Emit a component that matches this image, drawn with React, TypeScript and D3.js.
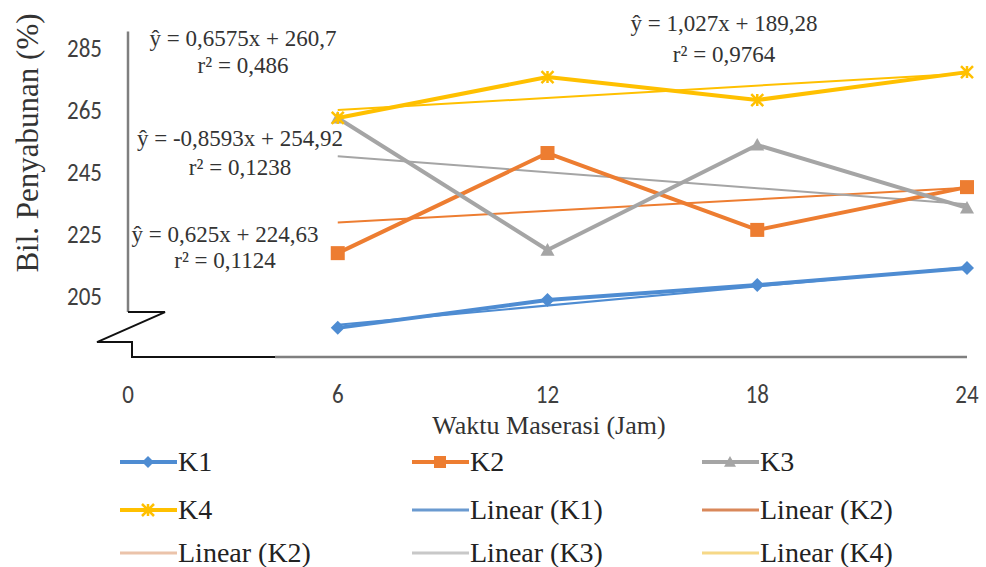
import React from 'react';
import * as d3 from 'd3';

const hours = [6, 12, 18, 24];
const seriesNames = ['K1', 'K2', 'K3', 'K4'];
const k1Values = [194.4, 203.4, 208.2, 213.7];
const k2Values = [218.5, 250.8, 226.0, 239.8];
const k3Values = [262.1, 219.5, 253.4, 233.1];
const k4Values = [262.1, 275.3, 267.9, 276.9];
const trendSlopes = [1.027, 0.625, -0.8593, 0.6575];
const trendIntercepts = [189.28, 224.63, 254.92, 260.7];
const xTicks = [0, 6, 12, 18, 24];
const yTicks = [205, 225, 245, 265, 285];
const equationTexts = ['ŷ = 1,027x + 189,28', 'ŷ = 0,625x + 224,63', 'ŷ = -0,8593x + 254,92', 'ŷ = 0,6575x + 260,7'];
const rSquaredTexts = ['r² = 0,9764', 'r² = 0,1124', 'r² = 0,1238', 'r² = 0,486'];
const legendLabels = ['K1', 'K2', 'K3', 'K4', 'Linear (K1)', 'Linear (K2)', 'Linear (K2)', 'Linear (K3)', 'Linear (K4)'];

const seriesColors = ['#4E8CD2', '#ED7D31', '#A5A5A5', '#FFC000'];
const markerKinds = ['diamond', 'square', 'triangle', 'star'];
const legendColors = ['#4E8CD2', '#ED7D31', '#A5A5A5', '#FFC000', '#6A9AD0', '#D9885A', '#EBC3AA', '#C8C8C8', '#F6D887'];
const legendMarkers = ['diamond', 'square', 'triangle', 'star', null, null, null, null, null];

const allSeries = [k1Values, k2Values, k3Values, k4Values];

// annotation placements (center x, baseline y of eq, baseline y of r²) per series
const annoPos = [
  [724, 31, 62],
  [225, 242, 268],
  [240, 146, 175],
  [243, 46, 73],
];

const serif = "'Liberation Serif', 'Times New Roman', 'DejaVu Serif', serif";
const sans = "Carlito, 'Liberation Sans', Arial, sans-serif";

function Marker({ kind, x, y, color, size }: { kind: string; x: number; y: number; color: string; size: number }) {
  const s = size;
  if (kind === 'diamond') {
    return <path d={`M${x},${y - s}L${x + s},${y}L${x},${y + s}L${x - s},${y}Z`} fill={color} />;
  }
  if (kind === 'square') {
    return <rect x={x - s} y={y - s} width={2 * s} height={2 * s} fill={color} />;
  }
  if (kind === 'triangle') {
    return <path d={`M${x},${y - s}L${x + s},${y + s * 0.8}L${x - s},${y + s * 0.8}Z`} fill={color} />;
  }
  return (
    <path
      d={`M${x - s},${y - s}L${x + s},${y + s}M${x - s},${y + s}L${x + s},${y - s}M${x},${y - s}L${x},${y + s}`}
      stroke={color}
      strokeWidth={2.5}
      fill="none"
    />
  );
}

export default function App() {
  const width = 986;
  const height = 567;
  const x = d3.scaleLinear().domain([0, 24]).range([128, 967]);
  const y = d3.scaleLinear().domain([185, 285]).range([357, 47]);
  const line = d3
    .line<number>()
    .x((_, i) => x(hours[i]))
    .y((d) => y(d));

  const x0 = x(0);
  const yBase = y(185);
  const yTop = y(290);
  const yBreak = y(199.5);

  return (
    <svg
      width={width}
      height={height}
      style={{ position: 'absolute', left: 0, top: 0, background: '#fff' }}
    >
      <rect x={0} y={0} width={width} height={height} fill="#fff" />

      {/* Y axis line and break */}
      <line x1={x0} x2={x0} y1={yTop} y2={yBreak} stroke="#7f7f7f" strokeWidth={2.5} />
      <path
        d={`M${x0},${yBreak}L${x0 + 37},${yBreak}L${x0 - 31},${yBreak + 30}L${x0 + 4},${yBreak + 30}L${x0 + 4},${yBase}L${x0 + 147},${yBase}`}
        fill="none"
        stroke="#111"
        strokeWidth={2}
      />
      <line x1={x0 + 147} x2={x(24)} y1={yBase} y2={yBase} stroke="#7f7f7f" strokeWidth={2.5} />

      {/* Y tick labels */}
      {yTicks.map((t) => (
        <text
          key={t}
          transform={`translate(102,${y(t)}) scale(1,1.15)`}
          dy="0.36em"
          textAnchor="end"
          fontFamily={sans}
          fontSize={23}
          fill="#404040"
        >
          {t}
        </text>
      ))}
      <clipPath id="clip185">
        <rect x={50} y={yBase + 7} width={60} height={4} />
      </clipPath>
      <text
        clipPath="url(#clip185)"
        transform={`translate(102,${yBase + 17}) scale(1,1.15)`}
        dy="0.36em"
        textAnchor="end"
        fontFamily={sans}
        fontSize={23}
        fill="#bbb"
      >
        185
      </text>

      {/* X tick labels */}
      {xTicks.map((t) => (
        <text
          key={t}
          transform={`translate(${x(t)},403) scale(1,1.12)`}
          textAnchor="middle"
          fontFamily={sans}
          fontSize={23}
          fill="#404040"
        >
          {t}
        </text>
      ))}

      {/* Axis titles */}
      <text
        transform="translate(38,143) rotate(-90)"
        textAnchor="middle"
        fontFamily={serif}
        fontSize={31}
        fill="#333"
      >
        Bil. Penyabunan (%)
      </text>
      <text x={549} y={434} textAnchor="middle" fontFamily={serif} fontSize={26} fill="#333">
        Waktu Maserasi (Jam)
      </text>

      {/* Trend lines */}
      {trendSlopes.map((m, i) => {
        const b = trendIntercepts[i];
        const xs = [hours[0], hours[hours.length - 1]];
        return (
          <line
            key={'tr' + i}
            x1={x(xs[0])}
            y1={y(m * xs[0] + b)}
            x2={x(xs[1])}
            y2={y(m * xs[1] + b)}
            stroke={seriesColors[i]}
            strokeWidth={2}
          />
        );
      })}

      {/* Series lines & markers */}
      {allSeries.map((vals, i) => (
        <g key={seriesNames[i]}>
          <path d={line(vals) || ''} fill="none" stroke={seriesColors[i]} strokeWidth={4} strokeLinejoin="round" />
          {vals.map((v, j) => (
            <Marker
              key={j}
              kind={markerKinds[i]}
              x={x(hours[j])}
              y={y(v)}
              color={seriesColors[i]}
              size={markerKinds[i] === 'star' ? 6 : 7}
            />
          ))}
        </g>
      ))}

      {/* Equations */}
      {equationTexts.map((eq, i) => (
        <g key={'eq' + i} fontFamily={serif} fontSize={23} fill="#333" textAnchor="middle">
          <text x={annoPos[i][0]} y={annoPos[i][1]}>
            {eq}
          </text>
          <text x={annoPos[i][0]} y={annoPos[i][2]}>
            {rSquaredTexts[i]}
          </text>
        </g>
      ))}

      {/* Legend */}
      {legendLabels.map((lab, i) => {
        const col = i % 3;
        const row = Math.floor(i / 3);
        const lx = [120, 412, 702][col];
        const ly = [462, 510, 553][row];
        const mk = legendMarkers[i];
        return (
          <g key={'lg' + i}>
            <line
              x1={lx}
              x2={lx + 57}
              y1={ly}
              y2={ly}
              stroke={legendColors[i]}
              strokeWidth={mk ? 4 : 3}
            />
            {mk && <Marker kind={mk} x={lx + 28} y={ly} color={legendColors[i]} size={6} />}
            <text x={lx + 58} y={ly + 9} fontFamily={serif} fontSize={28} fill="#222">
              {lab}
            </text>
          </g>
        );
      })}
    </svg>
  );
}
